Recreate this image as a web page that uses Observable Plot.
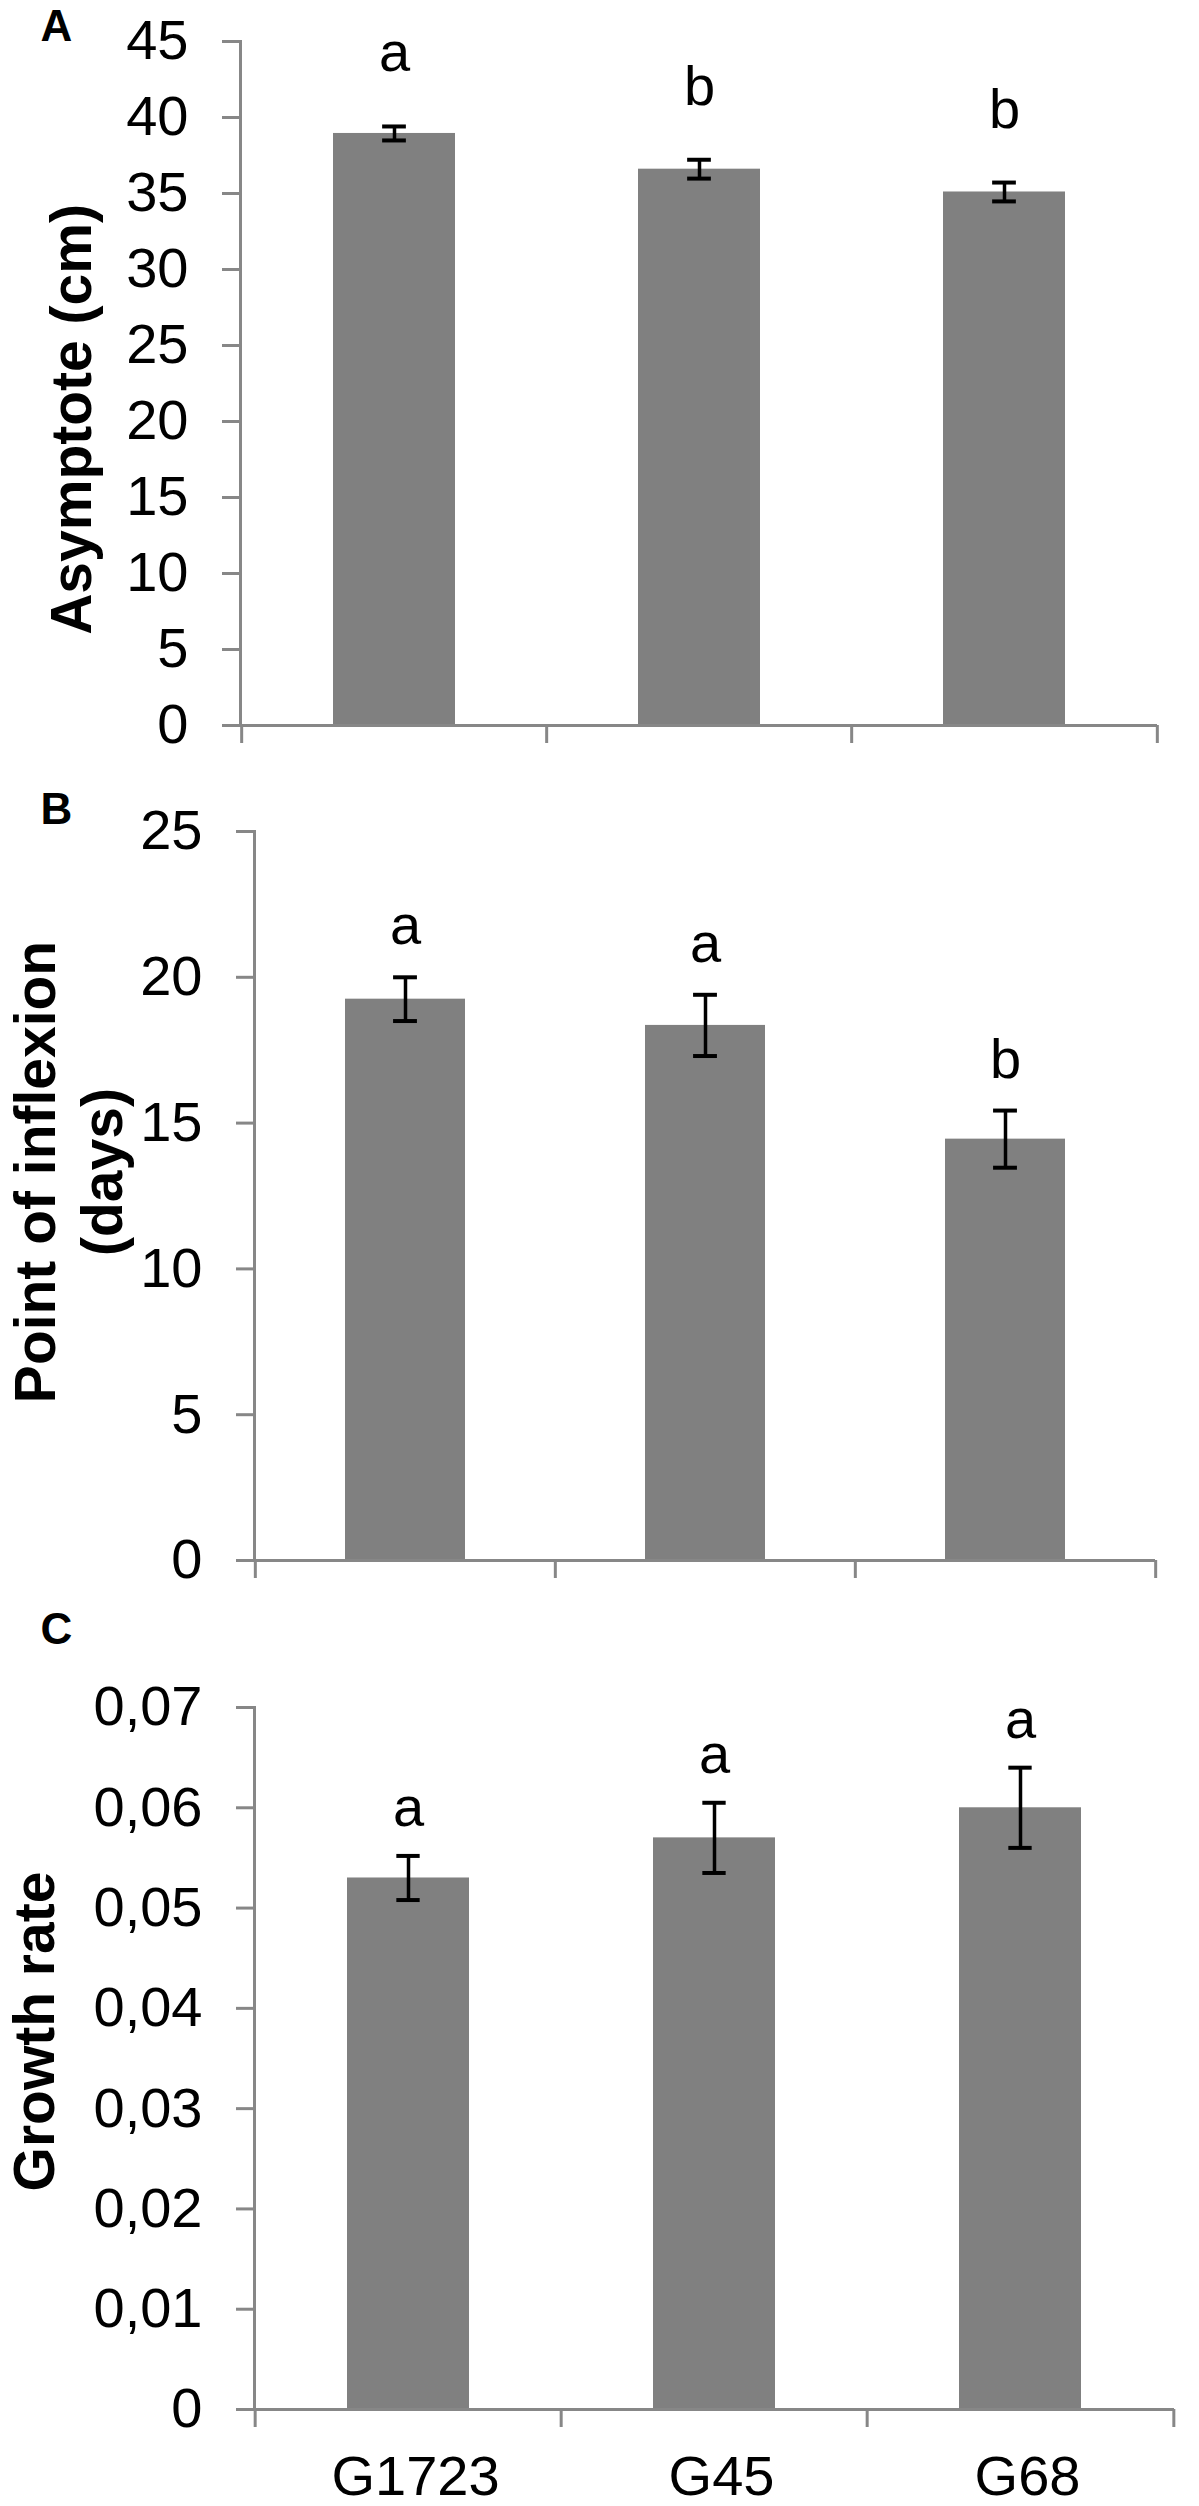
<!DOCTYPE html>
<html><head><meta charset="utf-8">
<script src="https://cdn.jsdelivr.net/npm/d3@7"></script>
<script src="https://cdn.jsdelivr.net/npm/@observablehq/plot@0.6"></script>
<style>
body{margin:0;background:#fff;}
#chart{width:1199px;height:2506px;position:relative;background:#fff;overflow:hidden;}
#chart svg{display:block;}
</style></head><body><div id="chart"></div>
<script>
const genotypes = ["G1723", "G45", "G68"];

const asymptote = [38.95, 36.6, 35.1];
const asymptoteErr = [0.46, 0.62, 0.62];
const asymptoteLetters = ["a", "b", "b"];

const inflexion = [19.25, 18.35, 14.45];
const inflexionErr = [0.75, 1.05, 0.98];
const inflexionLetters = ["a", "a", "b"];

const growth = [0.053, 0.057, 0.060];
const growthErr = [0.0022, 0.0035, 0.004];
const growthLetters = ["a", "a", "a"];

const ticksA = [0, 5, 10, 15, 20, 25, 30, 35, 40, 45];
const ticksB = [0, 5, 10, 15, 20, 25];
const ticksC = [0, 0.01, 0.02, 0.03, 0.04, 0.05, 0.06, 0.07];
const tickLabelsC = ["0", "0,01", "0,02", "0,03", "0,04", "0,05", "0,06", "0,07"];

const AXIS = "#878787", BAR = "#808080";
const FONT = "'Liberation Sans', Arial, Helvetica, sans-serif";
const W = 1199;

function panel(o) {
  const rows = genotypes.map((g, i) => ({
    g, v: o.values[i], lo: o.values[i] - o.errs[i], hi: o.values[i] + o.errs[i], letter: o.letters[i]
  }));
  const pi = 0.6, po = 0.3;
  const step = (W - o.ml - o.mr) / genotypes.length;
  const bw = step * (1 - pi);
  const capInset = (bw - 24) / 2;
  const frameH = o.height - o.mt - o.mb;
  const tickStyle = {stroke: AXIS, strokeWidth: 3, insetTop: frameH, insetBottom: -18};
  const marks = [
    Plot.barY(rows, {x: "g", y: "v", fill: BAR}),
    Plot.frame({anchor: "left", stroke: AXIS, strokeWidth: 3}),
    Plot.ruleY([0], {stroke: AXIS, strokeWidth: 3}),
    Plot.axisY(o.ticks, {tickSize: 18, tickPadding: 34, stroke: AXIS, strokeWidth: 3, fill: "black",
      tickFormat: o.tickFormat, fontSize: 56, label: null}),
    Plot.ruleX(genotypes, {x: d => d, dx: -step / 2, ...tickStyle}),
    Plot.ruleX([genotypes[genotypes.length - 1]], {x: d => d, dx: step / 2, ...tickStyle}),
    Plot.ruleX(rows, {x: "g", y1: "lo", y2: "hi", stroke: "black", strokeWidth: 3.5}),
    Plot.tickY(rows, {x: "g", y: "hi", insetLeft: capInset, insetRight: capInset, stroke: "black", strokeWidth: 4}),
    Plot.tickY(rows, {x: "g", y: "lo", insetLeft: capInset, insetRight: capInset, stroke: "black", strokeWidth: 4}),
    Plot.text(rows, {x: "g", y: "hi", text: "letter", lineAnchor: "bottom", dy: -o.letterGap, fontSize: 56, fill: "black"}),
    Plot.text([o.title], {frameAnchor: "left", rotate: -90, lineAnchor: "bottom", textAnchor: "middle",
      dx: o.titleDx, dy: o.titleDy, fontWeight: "bold", fontSize: 57, lineHeight: 1.16, fill: "black"}),
    Plot.text([o.panelLabel], {frameAnchor: "top-left", textAnchor: "start", lineAnchor: "bottom",
      dx: o.labelDx, dy: o.labelDy, fontWeight: "bold", fontSize: 44, fill: "black"})
  ];
  if (o.showX) {
    marks.push(Plot.axisX({tickSize: 0, tickPadding: 46, fill: "black", fontSize: 56, label: null, dx: 7}));
  }
  return Plot.plot({
    width: W,
    height: o.height,
    marginLeft: o.ml, marginRight: o.mr, marginTop: o.mt, marginBottom: o.mb,
    x: {type: "band", domain: genotypes, paddingInner: pi, paddingOuter: po, ...(o.showX ? {} : {axis: null})},
    y: {domain: [0, o.ymax], label: null},
    style: {fontFamily: FONT, fontSize: "56px", color: "black", background: "#fff", overflow: "visible"},
    marks
  });
}

const chart = document.getElementById("chart");

chart.append(panel({
  values: asymptote, errs: asymptoteErr, letters: asymptoteLetters,
  ticks: ticksA, tickFormat: d => String(d), ymax: 45,
  height: 780, ml: 240, mr: 42, mt: 41, mb: 55,
  title: "Asymptote (cm)", titleDx: -150, titleDy: 36,
  panelLabel: "A", labelDx: -200, labelDy: -1, letterGap: 55, showX: false
}));

chart.append(panel({
  values: inflexion, errs: inflexionErr, letters: inflexionLetters,
  ticks: ticksB, tickFormat: d => String(d), ymax: 25,
  height: 810, ml: 254, mr: 44, mt: 51, mb: 30,
  title: "Point of inflexion\n(days)", titleDx: -133, titleDy: -24,
  panelLabel: "B", labelDx: -214, labelDy: -8, letterGap: 33, showX: false
}));

chart.append(panel({
  values: growth, errs: growthErr, letters: growthLetters,
  ticks: ticksC, tickFormat: d => tickLabelsC[ticksC.indexOf(d)], ymax: 0.07,
  height: 916, ml: 254, mr: 25, mt: 117, mb: 97,
  title: "Growth rate", titleDx: -201, titleDy: -27,
  panelLabel: "C", labelDx: -214, labelDy: -64, letterGap: 30, showX: true
}));
</script>
</body></html>
